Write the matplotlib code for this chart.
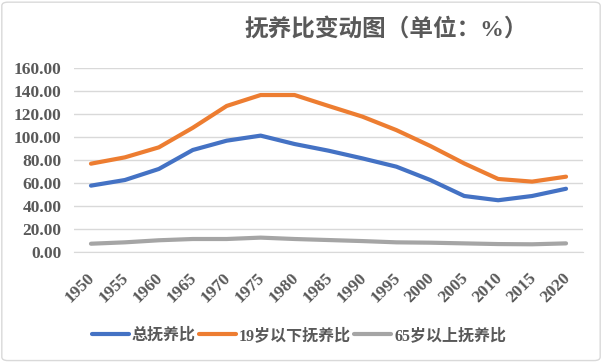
import matplotlib
matplotlib.use('Agg')
import matplotlib.pyplot as plt
import matplotlib.transforms as mtransforms
from matplotlib.patches import FancyBboxPatch

plt.rcParams['font.family'] = ['Liberation Serif', 'Noto Sans CJK SC']

years = ['1950', '1955', '1960', '1965', '1970', '1975', '1980', '1985',
         '1990', '1995', '2000', '2005', '2010', '2015', '2020']
total_ratio = [57.7, 62.6, 72.2, 88.7, 96.8, 101.2, 93.9, 88.1,
               81.4, 74.2, 62.6, 48.7, 45.0, 48.7, 55.0]
young_ratio = [76.8, 82.3, 91.0, 108.0, 127.0, 136.5, 136.5, 127.0,
               117.7, 106.0, 92.2, 77.0, 63.5, 61.2, 65.5]
old_ratio = [7.2, 8.4, 10.2, 11.3, 11.3, 12.5, 11.3, 10.4,
             9.5, 8.4, 8.1, 7.5, 6.9, 6.7, 7.5]
labels = ['总抚养比', '19岁以下抚养比', '65岁以上抚养比']
colors = ['#4472C4', '#ED7D31', '#A5A5A5']
text_color = '#595959'

fig = plt.figure(figsize=[6.02, 3.62], dpi=100)
ax = fig.add_axes([74 / 602, 1 - 252 / 362, 509 / 602, 184 / 362])

x = range(len(years))
for vals, lab, c in zip([total_ratio, young_ratio, old_ratio], labels, colors):
    ax.plot(x, vals, color=c, lw=3, label=lab, solid_capstyle='round')

ax.set_xlim(-0.5, len(years) - 0.5)
ax.set_ylim(0, 160)
ax.set_yticks(range(0, 161, 20))
ax.set_yticklabels(['%.2f' % v for v in range(0, 161, 20)])
ax.set_xticks(list(x))
ax.set_xticklabels(years, rotation=45, ha='right', va='top', rotation_mode='anchor')
ax.grid(axis='y', color='#D9D9D9', lw=1)
ax.set_axisbelow(True)
for s in ['top', 'right', 'left']:
    ax.spines[s].set_visible(False)
ax.spines['bottom'].set_color('#D9D9D9')
ax.tick_params(length=0, labelcolor=text_color, labelsize=12.5)
ax.tick_params(axis='y', pad=9)
ax.tick_params(axis='x', pad=13)
shift = mtransforms.ScaledTranslation(-4 / 100, 0, fig.dpi_scale_trans)
for t in ax.get_xticklabels():
    t.set_transform(t.get_transform() + shift)
for t in ax.get_xticklabels() + ax.get_yticklabels():
    t.set_fontweight('bold')

fig.text(386 / 602, 1 - 30 / 362, '抚养比变动图（单位：%）', ha='center', va='center',
         fontsize=17, fontweight='bold', color=text_color)

leg = fig.legend(loc='center', bbox_to_anchor=(299 / 602, 1 - 336 / 362), ncol=3,
                 frameon=False, handlelength=2.3, columnspacing=0.2, handletextpad=0.2,
                 prop={'size': 11.5, 'weight': 'bold'})
for t in leg.get_texts():
    t.set_color(text_color)

border = FancyBboxPatch((0.003, 0.004), 0.994, 0.99, boxstyle='round,pad=0,rounding_size=0.01',
                        transform=fig.transFigure, fill=False, edgecolor='#D9D9D9', lw=1)
fig.patches.append(border)

fig.savefig('out.png', dpi=100)
